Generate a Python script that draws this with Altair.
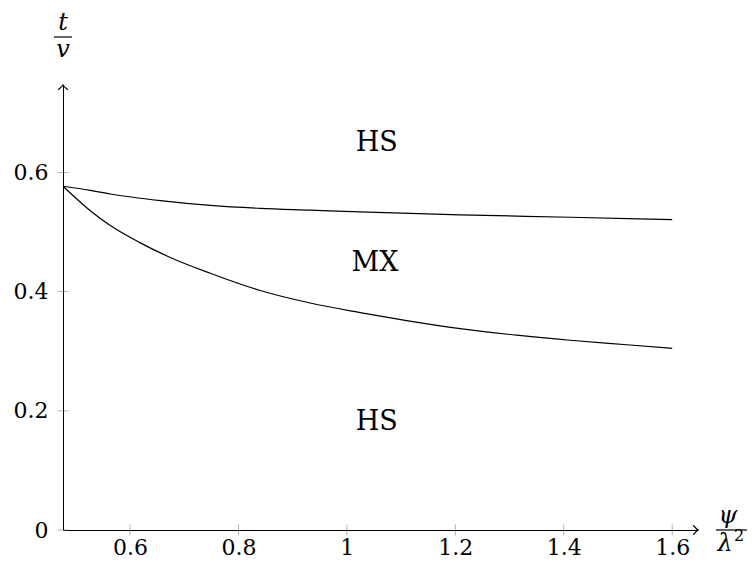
import altair as alt
import pandas as pd

# ---- data ----
x_min, x_max = 0.4765, 1.6476
y_min, y_max = 0.0, 0.747

upper_psi = [0.4765, 0.5268, 0.5637, 0.6559, 0.748, 0.840, 0.932, 1.0245, 1.209, 1.412, 1.6]
upper_tv = [0.577, 0.570, 0.564, 0.553, 0.545, 0.540, 0.537, 0.534, 0.529, 0.525, 0.521]

lower_psi = [0.4765, 0.5268, 0.5637, 0.619, 0.6743, 0.748, 0.8402, 0.9324, 1.0245,
             1.1075, 1.2088, 1.3134, 1.4116, 1.5161, 1.6]
lower_tv = [0.577, 0.536, 0.511, 0.482, 0.4575, 0.431, 0.402, 0.381, 0.365,
            0.352, 0.338, 0.327, 0.3185, 0.311, 0.305]

x_ticks = [0.6, 0.8, 1.0, 1.2, 1.4, 1.6]
y_ticks = [0.0, 0.2, 0.4, 0.6]

regions = ["HS", "MX", "HS"]
region_psi = [1.055, 1.052, 1.055]
region_tv = [0.650, 0.448, 0.181]

W, H = 635, 445
SERIF = "DejaVu Serif"

lines_df = pd.DataFrame({
    "psi": upper_psi + lower_psi,
    "tv": upper_tv + lower_tv,
    "curve": ["upper"] * len(upper_psi) + ["lower"] * len(lower_psi),
})

xs = alt.Scale(domain=[x_min, x_max], nice=False, zero=False)
ys = alt.Scale(domain=[y_min, y_max], nice=False, zero=False)

base_axis = dict(
    grid=False, ticks=False, domainColor="black", domainWidth=1,
    labelFont=SERIF, labelFontSize=22, labelColor="black", format="~g", title=None,
)

lines = alt.Chart(lines_df).mark_line(interpolate="monotone", color="black", strokeWidth=1.2).encode(
    x=alt.X("psi:Q", scale=xs, axis=alt.Axis(values=x_ticks, labelPadding=24,
                                               labelBaseline="alphabetic", **base_axis)),
    y=alt.Y("tv:Q", scale=ys, axis=alt.Axis(values=y_ticks, labelPadding=15, **base_axis)),
    detail="curve:N",
)

xt = alt.Chart(pd.DataFrame({"v": x_ticks})).mark_tick(
    orient="vertical", size=11, thickness=0.8, color="#777"
).encode(x=alt.X("v:Q", scale=xs), y=alt.datum(0.0))

yt = alt.Chart(pd.DataFrame({"v": y_ticks})).mark_tick(
    orient="horizontal", size=11, thickness=0.8, color="#777"
).encode(y=alt.Y("v:Q", scale=ys), x=alt.datum(x_min))

arrow_x = alt.Chart(pd.DataFrame({"a": [x_max], "b": [0.0]})).mark_point(
    shape="M-1,-1 Q-0.25,-0.15 0,0 Q-0.25,0.15 -1,1", filled=False, color="black",
    strokeWidth=1.2, size=90, opacity=1,
).encode(x=alt.X("a:Q", scale=xs), y=alt.Y("b:Q", scale=ys))

arrow_y = alt.Chart(pd.DataFrame({"a": [x_min], "b": [y_max]})).mark_point(
    shape="M-1,1 Q-0.15,0.25 0,0 Q0.15,0.25 1,1", filled=False, color="black",
    strokeWidth=1.2, size=90, opacity=1,
).encode(x=alt.X("a:Q", scale=xs), y=alt.Y("b:Q", scale=ys))

region_text = alt.Chart(pd.DataFrame({"psi": region_psi, "tv": region_tv, "lab": regions})).mark_text(
    font=SERIF, fontSize=27, color="black", align="center", baseline="middle"
).encode(x=alt.X("psi:Q", scale=xs), y=alt.Y("tv:Q", scale=ys), text="lab:N")


def txt(s, x, y, size=24, italic=True):
    return alt.Chart(pd.DataFrame({"s": [s]})).mark_text(
        font=SERIF, fontSize=size, fontStyle="italic" if italic else "normal",
        color="black", align="center", baseline="middle"
    ).encode(text="s:N", x=alt.value(x), y=alt.value(y))


def bar(x1, x2, y):
    return alt.Chart(pd.DataFrame({"k": [0]})).mark_rule(color="black", strokeWidth=1.2).encode(
        x=alt.value(x1), x2=alt.value(x2), y=alt.value(y)
    )


ytitle = txt("t", 0, -62) + bar(-9, 9, -48) + txt("v", 0, -35)
xtitle = (txt("ψ", 665, 431) + bar(653, 684, 445) + txt("λ", 662, 459)
          + txt("2", 676, 451, size=16, italic=False))

chart = alt.layer(
    lines, xt, yt, arrow_x, arrow_y, region_text, ytitle, xtitle
).properties(
    width=W, height=H,
    autosize=alt.AutoSizeParams(type="none"),
    padding={"left": 55, "top": 77, "right": 49, "bottom": 29},
).configure_view(stroke=None)

chart.save("out.html", embed_options={"renderer": "svg", "actions": False})
